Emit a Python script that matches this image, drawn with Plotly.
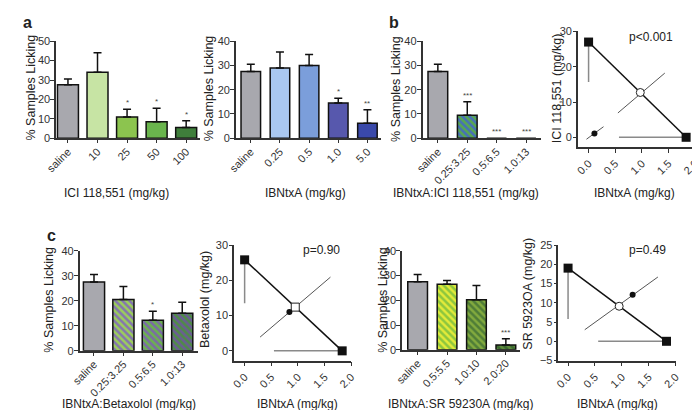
import plotly.graph_objects as go

W, H = 700, 410
FONT = "Liberation Sans, Arial, Helvetica, sans-serif"
AX = "#333333"

# ---------------- data ----------------
a1_cats = ["saline", "10", "25", "50", "100"]
a1_vals = [27.5, 34.0, 11.0, 8.5, 5.5]
a1_err = [3.0, 10.0, 4.0, 7.0, 3.5]
a1_sig = ["", "", "*", "*", "*"]

a2_cats = ["saline", "0.25", "0.5", "1.0", "5.0"]
a2_vals = [27.5, 29.0, 30.0, 14.5, 6.2]
a2_err = [3.0, 6.5, 4.5, 2.0, 5.5]
a2_sig = ["", "", "", "*", "**"]

b1_cats = ["saline", "0.25:3.25", "0.5:6.5", "1.0:13"]
b1_vals = [27.5, 9.5, 0.0, 0.0]
b1_err = [3.0, 5.5, 0.0, 0.0]
b1_sig = ["", "***", "***", "***"]

c1_cats = ["saline", "0.25:3.25", "0.5:6.5", "1.0:13"]
c1_vals = [27.5, 20.5, 12.2, 15.0]
c1_err = [3.0, 5.2, 3.6, 4.4]
c1_sig = ["", "", "*", ""]

c3_cats = ["saline", "0.5:5.5", "1.0:10", "2.0:20"]
c3_vals = [27.5, 26.5, 20.2, 2.0]
c3_err = [3.0, 1.5, 5.8, 2.5]
c3_sig = ["", "", "", "***"]

# isobolograms: [IBNtxA, antagonist]
b2_ends_x = [0.0, 1.83]; b2_ends_y = [27.0, 0.0]
b2_sem_v_y = [27.0, 15.7]; b2_sem_h_x = [1.83, 0.57]
b2_theo = (0.97, 12.7); b2_theo_ci_x = [0.55, 1.43]; b2_theo_ci_y = [6.9, 18.2]
b2_obs = (0.11, 1.1); b2_obs_ci_x = [-0.04, 0.28]; b2_obs_ci_y = [-0.55, 3.0]

c2_ends_x = [0.0, 1.83]; c2_ends_y = [25.8, 0.0]
c2_sem_v_y = [25.8, 13.5]; c2_sem_h_x = [1.83, 0.55]
c2_theo = (0.95, 12.4); c2_theo_ci_x = [0.29, 1.61]; c2_theo_ci_y = [3.9, 20.9]
c2_obs = (0.84, 11.0)

c4_ends_x = [0.0, 1.83]; c4_ends_y = [19.0, 0.0]
c4_sem_v_y = [19.0, 5.8]; c4_sem_h_x = [1.83, 0.56]
c4_theo = (0.95, 9.1); c4_theo_ci_x = [0.31, 1.67]; c4_theo_ci_y = [3.0, 16.7]
c4_obs = (1.2, 12.1)

GRAY = "#a8a8ae"
a1_colors = [GRAY, "#c7e4a4", "#8cc44f", "#6ab54d", "#3f7e3b"]
a2_colors = [GRAY, "#aac8f0", "#7b9edb", "#5758ad", "#3a49aa"]
b1_bg = [GRAY, "#58a850", GRAY, GRAY]
b1_fg = [None, "#4670b8", None, None]
c1_bg = [GRAY, "#9ccf5a", "#6cb24e", "#4f8c46"]
c1_fg = [None, "#8474b0", "#7a6aa6", "#6a5d94"]
c3_bg = [GRAY, "#e2ea3a", "#82aa3e", "#5e8b3b"]
c3_fg = [None, "#8cc63e", "#4f7d37", "#3b6930"]

XTICK = 11
YTICK = 11


def dx(x0, x1):
    return [x0 / W, x1 / W]


def dy(ytop, ybot):
    return [1 - ybot / H, 1 - ytop / H]


fig = go.Figure()
layout = dict(width=W, height=H, margin=dict(l=0, r=0, t=0, b=0),
              paper_bgcolor="white", plot_bgcolor="white", showlegend=False,
              font=dict(family=FONT, color=AX, size=11), barmode="overlay")
annotations = []


def base_axis(size):
    return dict(showline=True, linecolor=AX, linewidth=1.5, ticks="outside",
                tickcolor=AX, tickwidth=1.2, showgrid=False, zeroline=False,
                tickfont=dict(family=FONT, size=size, color=AX), fixedrange=True)


def bar_panel(i, cats, vals, err, sig, xdom, ydom, xrange, ymax, dtick, width,
              colors, fgs=None):
    xa = "x" if i == 1 else f"x{i}"
    ya = "y" if i == 1 else f"y{i}"
    for k, c in enumerate(cats):
        marker = dict(color=colors[k], line=dict(color="#111111", width=1.5))
        if fgs is not None and fgs[k] is not None:
            marker["pattern"] = dict(shape="\\", fgcolor=fgs[k], bgcolor=colors[k],
                                     size=5, solidity=0.5, fillmode="overlay",
                                     fgopacity=1)
        fig.add_trace(go.Bar(x=[c], y=[vals[k]], width=[width], marker=marker,
                             xaxis=xa, yaxis=ya,
                             error_y=dict(type="data", symmetric=False,
                                          array=[err[k]], arrayminus=[0],
                                          color="#111111", thickness=1.5, width=4,
                                          visible=err[k] > 0)))
    xd = base_axis(XTICK)
    xd.update(type="category", domain=xdom, range=xrange, anchor=ya, ticklen=3,
              tickangle=-45, categoryorder="array", categoryarray=cats,
              ticklabelstandoff=-2)
    yd = base_axis(YTICK)
    yd.update(domain=ydom, range=[0, ymax], anchor=xa, ticklen=4, dtick=dtick,
              tick0=0, ticklabelstandoff=-2)
    layout["xaxis" if i == 1 else f"xaxis{i}"] = xd
    layout["yaxis" if i == 1 else f"yaxis{i}"] = yd
    for k, (v, e, s) in enumerate(zip(vals, err, sig)):
        if s:
            annotations.append(dict(x=k, y=v + e, xref=xa, yref=ya, text=s,
                                    showarrow=False, yanchor="bottom", yshift=0,
                                    font=dict(size=8, color="#444444", family=FONT)))


def iso_panel(i, ends_x, ends_y, sem_v_y, sem_h_x, theo, theo_ci_x, theo_ci_y,
              obs, obs_ci, xdom, ydom, xrange, yrange, dtick, theo_symbol="circle"):
    xa = f"x{i}"
    ya = f"y{i}"
    common = dict(xaxis=xa, yaxis=ya, hoverinfo="skip", cliponaxis=False)
    fig.add_trace(go.Scatter(x=[ends_x[0], ends_x[0]], y=sem_v_y, mode="lines",
                             line=dict(color="#8a8a8a", width=1.5), **common))
    fig.add_trace(go.Scatter(x=sem_h_x, y=[ends_y[1], ends_y[1]], mode="lines",
                             line=dict(color="#8a8a8a", width=1.5), **common))
    fig.add_trace(go.Scatter(x=theo_ci_x, y=theo_ci_y, mode="lines",
                             line=dict(color="#555555", width=1), **common))
    if obs_ci is not None:
        fig.add_trace(go.Scatter(x=obs_ci[0], y=obs_ci[1], mode="lines",
                                 line=dict(color="#555555", width=1), **common))
    fig.add_trace(go.Scatter(x=ends_x, y=ends_y, mode="lines+markers",
                             line=dict(color="#111111", width=1.5),
                             marker=dict(symbol="square", size=9, color="#111111"),
                             **common))
    fig.add_trace(go.Scatter(x=[theo[0]], y=[theo[1]], mode="markers",
                             marker=dict(symbol=theo_symbol, size=8, color="white",
                                         line=dict(color="#222222", width=1)),
                             **common))
    fig.add_trace(go.Scatter(x=[obs[0]], y=[obs[1]], mode="markers",
                             marker=dict(symbol="circle", size=6, color="#111111"),
                             **common))
    xd = base_axis(XTICK)
    xd.update(domain=xdom, range=xrange, anchor=ya,
              ticklen=4, dtick=0.5, tick0=0, tickformat=".1f", tickangle=-45)
    yd = base_axis(YTICK)
    yd.update(domain=ydom, range=yrange, anchor=xa, ticklen=3, dtick=dtick, tick0=0,
              ticklabelstandoff=-1)
    layout[f"xaxis{i}"] = xd
    layout[f"yaxis{i}"] = yd


# ---- panel a ----
bar_panel(1, a1_cats, a1_vals, a1_err, a1_sig, dx(38, 185), dy(28, 128),
          [-0.4, 4.46], 50, 10, 0.71, a1_colors)
bar_panel(2, a2_cats, a2_vals, a2_err, a2_sig, dx(222, 370), dy(28, 128),
          [-0.51, 4.45], 40, 10, 0.67, a2_colors)
# ---- panel b ----
bar_panel(3, b1_cats, b1_vals, b1_err, b1_sig, dx(413, 534), dy(28, 128),
          [-0.52, 3.5], 40, 10, 0.67, b1_bg, b1_fg)
iso_panel(4, b2_ends_x, b2_ends_y, b2_sem_v_y, b2_sem_h_x, b2_theo, b2_theo_ci_x,
          b2_theo_ci_y, b2_obs, (b2_obs_ci_x, b2_obs_ci_y), dx(572, 692),
          dy(18, 137), [-0.2, 2.0], [-2.75, 30], 10)
# ---- panel c ----
bar_panel(5, c1_cats, c1_vals, c1_err, c1_sig, dx(62, 183), dy(244, 347),
          [-0.49, 3.53], 40, 10, 0.72, c1_bg, c1_fg)
iso_panel(6, c2_ends_x, c2_ends_y, c2_sem_v_y, c2_sem_h_x, c2_theo, c2_theo_ci_x,
          c2_theo_ci_y, c2_obs, None, dx(220, 340), dy(238, 357), [-0.2, 2.0],
          [-2.75, 30], 10, theo_symbol="square")
bar_panel(7, c3_cats, c3_vals, c3_err, c3_sig, dx(392, 513), dy(244, 346),
          [-0.53, 3.49], 40, 10, 0.67, c3_bg, c3_fg)
iso_panel(8, c4_ends_x, c4_ends_y, c4_sem_v_y, c4_sem_h_x, c4_theo, c4_theo_ci_x,
          c4_theo_ci_y, c4_obs, None, dx(552, 672), dy(238, 357), [-0.18, 2.0],
          [-5, 25], 5)


def txt(x, y, s, size=12, angle=0, bold=False):
    annotations.append(dict(x=x / W, y=1 - y / H, xref="paper", yref="paper",
                            text=f"<b>{s}</b>" if bold else s, showarrow=False,
                            textangle=angle, xanchor="center", yanchor="middle",
                            font=dict(family=FONT, size=size, color="#222222")))


# panel letters
txt(9, 9, "a", 16, bold=True)
txt(384, 9, "b", 16, bold=True)
txt(33, 228, "c", 16, bold=True)

# y titles
for x, y in [(12, 76), (194, 77), (386, 77), (31, 294), (373, 294)]:
    txt(x, y, "% Samples Licking", 12.5, angle=-90)
txt(550, 76, "ICI 118,551 (mg/kg)", 12.5, angle=-90)
txt(191, 294, "Betaxolol (mg/kg)", 12.5, angle=-90)
txt(520, 288, "SR 5923OA (mg/kg)", 12.5, angle=-90)

# x titles
txt(100, 184, "ICI 118,551 (mg/kg)", 12)
txt(293, 184, "IBNtxA (mg/kg)", 12)
txt(457, 184, "IBNtxA:ICI 118,551 (mg/kg)", 12)
txt(630, 184, "IBNtxA (mg/kg)", 12)
txt(113, 402, "IBNtxA:Betaxolol (mg/kg)", 12)
txt(285, 402, "IBNtxA (mg/kg)", 12)
txt(452, 402, "IBNtxA:SR 59230A (mg/kg)", 12)
txt(613, 402, "IBNtxA (mg/kg)", 12)

# p-values
txt(647, 24, "p&lt;0.001", 12)
txt(310, 243, "p=0.90", 12)
txt(643, 243, "p=0.49", 12)

layout["annotations"] = annotations
fig.update_layout(**layout)
fig.write_html("out.html")
